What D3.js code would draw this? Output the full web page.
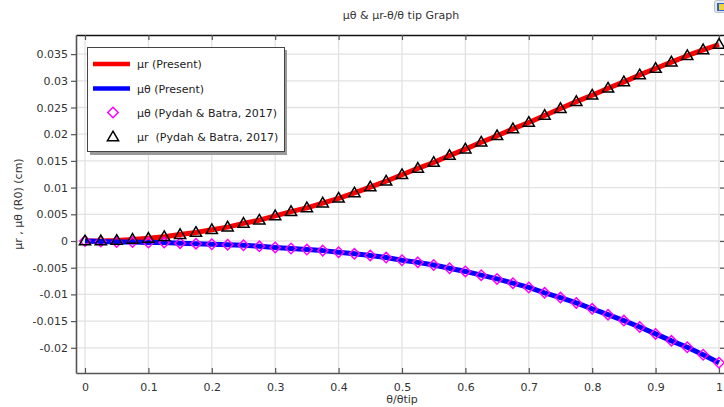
<!DOCTYPE html>
<html>
<head>
<meta charset="utf-8">
<script src="https://cdn.jsdelivr.net/npm/d3@7"></script>
<style>
  html, body { margin: 0; padding: 0; background: #fff; }
  svg { display: block; font-family: "DejaVu Sans", sans-serif; }
  text { white-space: pre; }
</style>
</head>
<body>
<svg id="chart" width="724" height="407"></svg>
<script>
// Normalised angle θ/θtip
const theta = [0, 0.025, 0.05, 0.075, 0.1, 0.125, 0.15, 0.175, 0.2, 0.225, 0.25,
  0.275, 0.3, 0.325, 0.35, 0.375, 0.4, 0.425, 0.45, 0.475, 0.5,
  0.525, 0.55, 0.575, 0.6, 0.625, 0.65, 0.675, 0.7, 0.725, 0.75,
  0.775, 0.8, 0.825, 0.85, 0.875, 0.9, 0.925, 0.95, 0.975, 1.0];

// Radial displacement μr (cm)
const muR = [0.0000, 0.00002, 0.0001, 0.0003, 0.0005, 0.0008, 0.0012, 0.0016, 0.0021, 0.0026, 0.0033,
  0.0039, 0.0047, 0.0055, 0.0062, 0.0071, 0.0080, 0.0090, 0.0101, 0.0112, 0.0124,
  0.0136, 0.0147, 0.0160, 0.0172, 0.0185, 0.0197, 0.0210, 0.0222, 0.0235, 0.0248,
  0.0261, 0.0273, 0.0286, 0.0298, 0.0311, 0.0323, 0.0335, 0.0347, 0.0358, 0.0368];

// Tangential displacement μθ (cm)
const muTheta = [0.0000, -0.0001, -0.0002, -0.0002, -0.0003, -0.0003, -0.0004, -0.0005, -0.0006, -0.0007, -0.0008,
  -0.0010, -0.0012, -0.0014, -0.0016, -0.0018, -0.0021, -0.0024, -0.0027, -0.0031, -0.0036,
  -0.0040, -0.0045, -0.0051, -0.0057, -0.0064, -0.0071, -0.0079, -0.0087, -0.0097, -0.0106,
  -0.0116, -0.0127, -0.0138, -0.0149, -0.0161, -0.0174, -0.0187, -0.0199, -0.0213, -0.0228];

const xTicks = [0, 0.1, 0.2, 0.3, 0.4, 0.5, 0.6, 0.7, 0.8, 0.9, 1];
const xTickLabels = ["0", "0.1", "0.2", "0.3", "0.4", "0.5", "0.6", "0.7", "0.8", "0.9", "1"];
const yTicks = [0.035, 0.03, 0.025, 0.02, 0.015, 0.01, 0.005, 0, -0.005, -0.01, -0.015, -0.02];
const yTickLabels = ["0.035", "0.03", "0.025", "0.02", "0.015", "0.01", "0.005", "0", "-0.005", "-0.01", "-0.015", "-0.02"];

const legendLabels = ["μr (Present)", "μθ (Present)", "μθ (Pydah & Batra, 2017)", "μr  (Pydah & Batra, 2017)"];

const svg = d3.select("#chart");
const plot = { left: 76, right: 725, top: 35, bottom: 373 };

const x = d3.scaleLinear().domain([-0.0142, 1.0095]).range([plot.left, plot.right]);
const y = d3.scaleLinear().domain([-0.02472, 0.03858]).range([plot.bottom, plot.top]);

const textColor = "#333";

// Title
svg.append("text")
  .attr("x", 401).attr("y", 19)
  .attr("text-anchor", "middle")
  .attr("font-size", 11).attr("fill", textColor)
  .text("μθ & μr-θ/θ tip Graph");

// Grid
const grid = svg.append("g").attr("stroke", "#e2e2e2").attr("stroke-width", 1.3);
grid.selectAll("line.gx").data(xTicks).join("line")
  .attr("x1", d => x(d)).attr("x2", d => x(d))
  .attr("y1", plot.top).attr("y2", plot.bottom);
grid.selectAll("line.gy").data(yTicks).join("line")
  .attr("x1", plot.left).attr("x2", plot.right)
  .attr("y1", d => y(d)).attr("y2", d => y(d));

// Axes
const xAxisBottom = d3.axisBottom(x).tickValues(xTicks)
  .tickFormat((d, i) => xTickLabels[i]).tickSizeInner(-5).tickSizeOuter(0).tickPadding(10);
const gxb = svg.append("g").attr("transform", `translate(0,${plot.bottom})`).call(xAxisBottom);
gxb.select(".domain").attr("stroke", "#555").attr("stroke-width", 1.6);
gxb.selectAll(".tick line").attr("stroke", "#555").attr("stroke-width", 1.2);
gxb.selectAll(".tick text").attr("font-size", 11).attr("fill", textColor)
  .attr("font-family", "DejaVu Sans");

const xAxisTop = d3.axisTop(x).tickValues(xTicks).tickFormat("").tickSizeInner(-5).tickSizeOuter(0);
const gxt = svg.append("g").attr("transform", `translate(0,${plot.top})`).call(xAxisTop);
gxt.select(".domain").attr("stroke", "#111").attr("stroke-width", 1.4);
gxt.selectAll(".tick line").attr("stroke", "#555").attr("stroke-width", 1.2);

const yAxisLeft = d3.axisLeft(y).tickValues(yTicks)
  .tickFormat((d, i) => yTickLabels[i]).tickSizeInner(5).tickSizeOuter(0).tickPadding(3);
const gyl = svg.append("g").attr("transform", `translate(${plot.left},0)`).call(yAxisLeft);
gyl.select(".domain").attr("stroke", "#555").attr("stroke-width", 1.6);
gyl.selectAll(".tick line").attr("stroke", "#555").attr("stroke-width", 1.2);
gyl.selectAll(".tick text").attr("font-size", 11).attr("fill", textColor)
  .attr("font-family", "DejaVu Sans");

const yAxisRight = d3.axisRight(y).tickValues(yTicks).tickFormat("").tickSizeInner(-5).tickSizeOuter(0);
const gyr = svg.append("g").attr("transform", `translate(${plot.right},0)`).call(yAxisRight);
gyr.select(".domain").attr("stroke", "#555").attr("stroke-width", 1.4);
gyr.selectAll(".tick line").attr("stroke", "#555").attr("stroke-width", 1.2);

// Axis titles
svg.append("text")
  .attr("x", x(0.5)).attr("y", 403)
  .attr("text-anchor", "middle").attr("font-size", 11).attr("fill", textColor)
  .text("θ/θtip");
svg.append("text")
  .attr("transform", `translate(22,${(plot.top + plot.bottom) / 2}) rotate(-90)`)
  .attr("text-anchor", "middle").attr("font-size", 11).attr("fill", textColor)
  .text("μr , μθ (R0) (cm)");

// Curves
const rows = theta.map((t, i) => ({ t, r: muR[i], th: muTheta[i] }));
const lineR = d3.line().x(d => x(d.t)).y(d => y(d.r));
const lineTh = d3.line().x(d => x(d.t)).y(d => y(d.th));

svg.append("path").datum(rows).attr("d", lineR)
  .attr("fill", "none").attr("stroke", "#ff0000").attr("stroke-width", 5)
  .attr("stroke-linejoin", "round");
svg.append("path").datum(rows).attr("d", lineTh)
  .attr("fill", "none").attr("stroke", "#0000ff").attr("stroke-width", 5)
  .attr("stroke-linejoin", "round");

// Reference markers
const diamond = "M0,-5.2L5.2,0L0,5.2L-5.2,0Z";
const triangle = "M0,-5.8L5.6,3.8L-5.6,3.8Z";

svg.append("g").selectAll("path").data(rows).join("path")
  .attr("transform", d => `translate(${x(d.t)},${y(d.th)})`)
  .attr("d", diamond).attr("fill", "none")
  .attr("stroke", "#ff00ff").attr("stroke-width", 1.5);

svg.append("g").selectAll("path").data(rows).join("path")
  .attr("transform", d => `translate(${x(d.t)},${y(d.r)})`)
  .attr("d", triangle).attr("fill", "none")
  .attr("stroke", "#000").attr("stroke-width", 1.5).attr("stroke-linejoin", "miter");

// Legend
const lg = svg.append("g");
lg.append("rect").attr("x", 90).attr("y", 50).attr("width", 197).attr("height", 105).attr("fill", "#9a9a9a");
lg.append("rect").attr("x", 87.5).attr("y", 47.5).attr("width", 197).attr("height", 104)
  .attr("fill", "#fff").attr("stroke", "#444").attr("stroke-width", 1);

const legendRowsY = [64, 88.5, 112.5, 137];
lg.append("line").attr("x1", 93).attr("x2", 130).attr("y1", legendRowsY[0]).attr("y2", legendRowsY[0])
  .attr("stroke", "#ff0000").attr("stroke-width", 4.5);
lg.append("line").attr("x1", 93).attr("x2", 130).attr("y1", legendRowsY[1]).attr("y2", legendRowsY[1])
  .attr("stroke", "#0000ff").attr("stroke-width", 4.5);
lg.append("path").attr("transform", `translate(113,${legendRowsY[2]})`).attr("d", diamond)
  .attr("fill", "none").attr("stroke", "#ff00ff").attr("stroke-width", 1.5);
lg.append("path").attr("transform", `translate(113,${legendRowsY[3]})`).attr("d", triangle)
  .attr("fill", "none").attr("stroke", "#000").attr("stroke-width", 1.5);

lg.selectAll("text.lbl").data(legendLabels).join("text")
  .attr("x", 137).attr("y", (d, i) => legendRowsY[i] + 4)
  .attr("font-size", 11).attr("fill", "#222")
  .text(d => d);

// Window icon in the corner
const icon = svg.append("g");
icon.append("rect").attr("x", 714.5).attr("y", 0.5).attr("width", 11).attr("height", 12).attr("rx", 2)
  .attr("fill", "#e3e8ee").attr("stroke", "#b8c0c8");
icon.append("rect").attr("x", 717).attr("y", 3).attr("width", 8).attr("height", 8).attr("fill", "#2f64c8");
icon.append("rect").attr("x", 719).attr("y", 4).attr("width", 5).attr("height", 6).attr("fill", "#f2d23c");
</script>
</body>
</html>
